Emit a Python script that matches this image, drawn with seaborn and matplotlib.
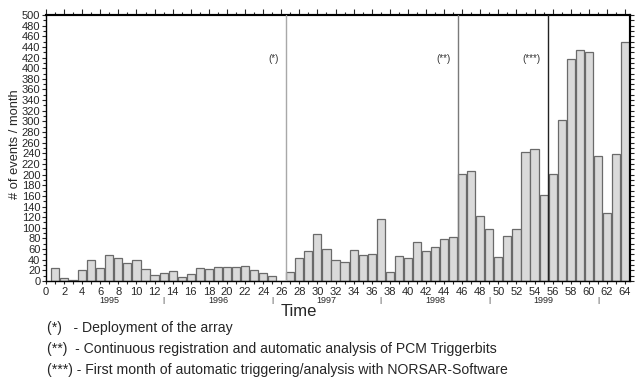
import numpy as np
import pandas as pd
import matplotlib
matplotlib.use("Agg")
import matplotlib.pyplot as plt
import matplotlib.transforms as mtransforms
from matplotlib.ticker import MultipleLocator
import seaborn as sns

months = list(range(1, 65))
events = [24, 6, 2, 21, 39, 24, 49, 44, 34, 40,
          23, 12, 15, 19, 8, 13, 24, 23, 26, 26,
          26, 28, 20, 15, 9, 0, 17, 44, 57, 89,
          60, 40, 35, 59, 49, 50, 116, 17, 47, 44,
          73, 57, 63, 79, 83, 202, 206, 123, 98, 45,
          84, 98, 242, 249, 161, 202, 303, 418, 434, 430,
          235, 128, 239, 450]
years = ["1995", "1996", "1997", "1998", "1999"]
year_pos = [7, 19, 31, 43, 55]
year_sep = [13, 25, 37, 49, 61]
markers = ["(*)", "(**)", "(***)"]
marker_pos = [26.5, 45.5, 55.5]
notes = ["(*)   - Deployment of the array",
         "(**)  - Continuous registration and automatic analysis of PCM Triggerbits",
         "(***) - First month of automatic triggering/analysis with NORSAR-Software"]

sns.set_style("white")
plt.rcParams['font.family'] = ['Liberation Sans', 'DejaVu Sans']

W, H = 638, 378
fig = plt.figure(figsize=(W / 100, H / 100), dpi=100)
ax = fig.add_axes([46 / W, 1 - 281 / H, (630 - 46) / W, (281 - 15) / H])

df = pd.DataFrame({"month": months, "events": events})
sns.barplot(data=df, x="month", y="events", native_scale=True, ax=ax,
            color="#dadada", edgecolor="#6a6a6a", linewidth=0.9, width=0.9,
            saturation=1)

ax.set_xlim(0, 64.55)
ax.set_ylim(0, 500)
ax.set_xlabel("")
ax.set_ylabel("")

ax.xaxis.set_major_locator(MultipleLocator(2))
ax.xaxis.set_minor_locator(MultipleLocator(1))
ax.yaxis.set_major_locator(MultipleLocator(20))
ax.yaxis.set_minor_locator(MultipleLocator(10))
ax.tick_params(axis="x", which="major", direction="out", length=2.5, width=0.8,
               labelsize=8, pad=1.5, bottom=True, top=False)
ax.tick_params(axis="x", which="minor", direction="out", length=2.5, width=0.8,
               bottom=True, top=False)
ax.tick_params(axis="y", which="major", direction="out", length=3, width=0.8,
               labelsize=8, pad=1, left=True, right=False)
ax.tick_params(axis="y", which="minor", direction="out", length=2, width=0.8,
               left=True, right=False)

for s in ["left", "bottom"]:
    ax.spines[s].set_linewidth(1.0)
    ax.spines[s].set_color("black")
for s in ["top", "right"]:
    ax.spines[s].set_linewidth(1.5)
    ax.spines[s].set_color("black")

top = ax.secondary_xaxis("top")
top.xaxis.set_major_locator(MultipleLocator(2))
top.xaxis.set_minor_locator(MultipleLocator(1))
top.tick_params(which="major", direction="out", length=4, width=0.8, labeltop=False)
top.tick_params(which="minor", direction="out", length=2, width=0.8)
top.spines["top"].set_linewidth(1.5)

right = ax.secondary_yaxis("right")
right.yaxis.set_major_locator(MultipleLocator(10))
right.tick_params(which="major", direction="out", length=3, width=0.8, labelright=False)
right.spines["right"].set_linewidth(1.5)

colors = ["#a8a8a8", "#7a7a7a", "#222222"]
for xp, m, c in zip(marker_pos, markers, colors):
    ax.axvline(xp, color=c, linewidth=1.0, zorder=3)
    ax.text(xp - 0.8, 418, m, ha="right", va="center", fontsize=7, color="#333333")

trans = mtransforms.blended_transform_factory(ax.transData, ax.transAxes)
for xp, y in zip(year_pos, years):
    ax.text(xp, -0.075, y, transform=trans, ha="center", va="center", fontsize=6.5)
for xp in year_sep:
    ax.text(xp, -0.075, "|", transform=trans, ha="center", va="center", fontsize=6)

fig.text(299 / W, 1 - 311 / H, "Time", ha="center", va="center", fontsize=12)
fig.text(15 / W, 1 - 144 / H, "# of events / month", rotation=90,
         ha="center", va="center", fontsize=9.3)

for i, n in enumerate(notes):
    fig.text(47 / W, 1 - (328 + 21 * i) / H, n, ha="left", va="center", fontsize=10.1)

fig.savefig("out.png", dpi=100)
